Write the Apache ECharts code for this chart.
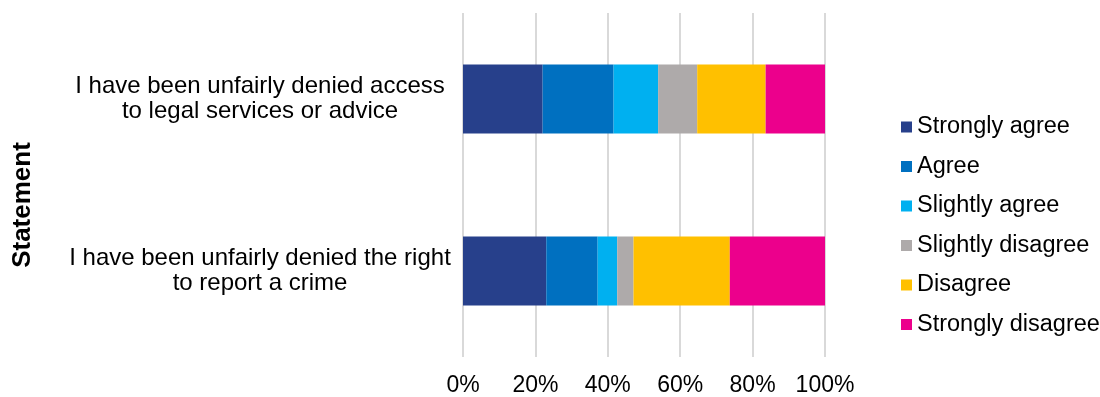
<!DOCTYPE html>
<html>
<head>
<meta charset="utf-8">
<script src="https://cdn.jsdelivr.net/npm/echarts@6/dist/echarts.min.js"></script>
<style>
  html, body { margin: 0; padding: 0; background: #fff; }
  #chart { width: 1100px; height: 397px; }
</style>
</head>
<body>
<div id="chart"></div>
<script>
const categories = [
  'I have been unfairly denied access\nto legal services or advice',
  'I have been unfairly denied the right\nto report a crime'
];
const seriesNames = ['Strongly agree', 'Agree', 'Slightly agree', 'Slightly disagree', 'Disagree', 'Strongly disagree'];
const stronglyAgree = [22.0, 23.0];
const agree = [19.6, 14.2];
const slightlyAgree = [12.3, 5.4];
const slightlyDisagree = [10.8, 4.5];
const disagree = [18.9, 26.6];
const stronglyDisagree = [16.4, 26.3];
const xTicks = [0, 20, 40, 60, 80, 100];
const colors = ['#27408B', '#0070C0', '#00B0F0', '#AEAAAA', '#FFC000', '#EC008C'];

const values = [stronglyAgree, agree, slightlyAgree, slightlyDisagree, disagree, stronglyDisagree];
const FONT = '"Liberation Sans", Arial, Helvetica, sans-serif';

const chart = echarts.init(document.getElementById('chart'), null, { renderer: 'canvas' });
chart.setOption({
  animation: false,
  color: colors,
  textStyle: { fontFamily: FONT, color: '#000' },
  grid: { left: 463, right: 275, top: 13, bottom: 35, containLabel: false },
  legend: {
    orient: 'vertical',
    left: 896,
    top: 110,
    icon: 'rect',
    itemWidth: 11,
    itemHeight: 11,
    itemGap: 15.5,
    data: seriesNames,
    textStyle: { fontFamily: FONT, fontSize: 23.5, color: '#000', lineHeight: 24 }
  },
  xAxis: {
    type: 'value',
    min: xTicks[0],
    max: xTicks[xTicks.length - 1],
    interval: 20,
    axisLine: { show: false },
    axisTick: { show: false },
    splitLine: { show: true, lineStyle: { color: '#D9D9D9', width: 2 } },
    axisLabel: {
      formatter: v => v + '%',
      fontSize: 23,
      color: '#000',
      margin: 17,
      fontFamily: FONT
    }
  },
  yAxis: {
    type: 'category',
    inverse: true,
    data: categories,
    axisLine: { show: false },
    axisTick: { show: false },
    axisLabel: {
      align: 'center',
      margin: 203,
      fontSize: 24,
      lineHeight: 25,
      color: '#000',
      fontFamily: FONT
    }
  },
  graphic: [{
    type: 'text',
    x: 23,
    y: 205,
    rotation: Math.PI / 2,
    style: {
      text: 'Statement',
      font: 'bold 26px ' + FONT,
      fill: '#000',
      textAlign: 'center',
      textVerticalAlign: 'middle'
    }
  }],
  series: seriesNames.map((name, i) => ({
    name: name,
    type: 'bar',
    stack: 'total',
    barCategoryGap: '60%',
    data: values[i]
  }))
});
</script>
</body>
</html>
